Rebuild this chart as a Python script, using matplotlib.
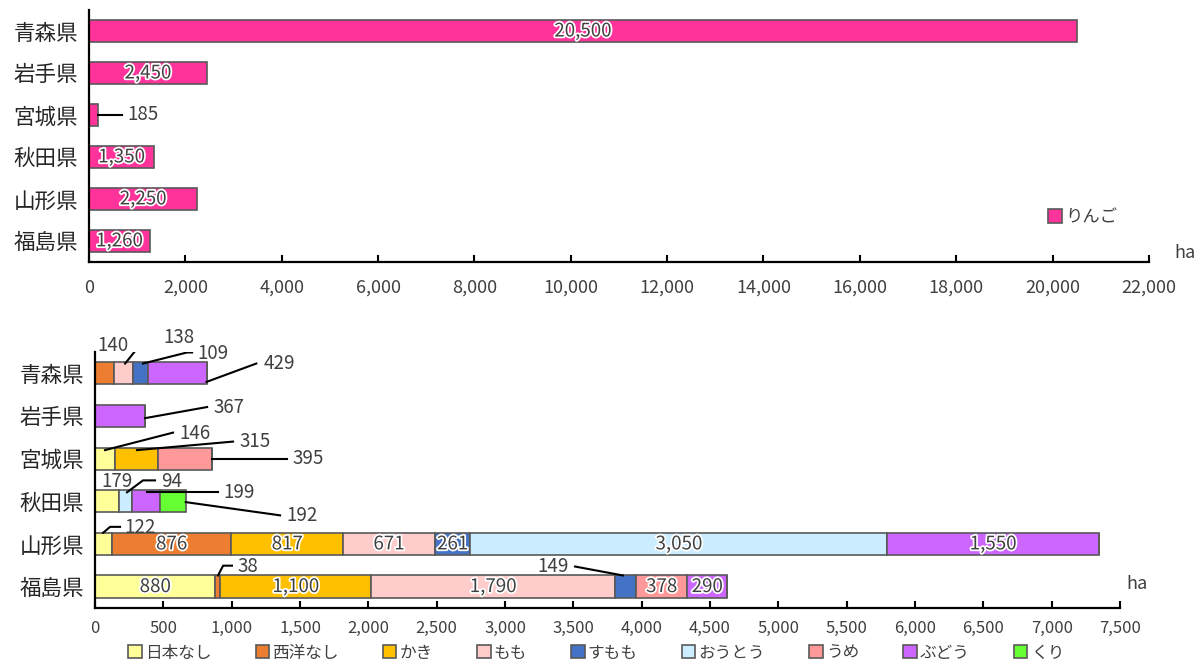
import numpy as np
import matplotlib.pyplot as plt
import matplotlib.patheffects as pe
from matplotlib.ticker import FuncFormatter

plt.rcParams['font.family'] = ['Noto Sans CJK JP', 'DejaVu Sans']

prefs = ["青森県", "岩手県", "宮城県", "秋田県", "山形県", "福島県"]

# りんご (ha)
apple = [20500, 2450, 185, 1350, 2250, 1260]

# other fruit (ha)
fruits = ["日本なし", "西洋なし", "かき", "もも", "すもも", "おうとう", "うめ", "ぶどう", "くり"]
nashi = [0, 0, 146, 179, 122, 880]
seiyo = [140, 0, 0, 0, 876, 38]
kaki = [0, 0, 315, 0, 817, 1100]
momo = [138, 0, 0, 0, 671, 1790]
sumomo = [109, 0, 0, 0, 261, 149]
outou = [0, 0, 0, 94, 3050, 0]
ume = [0, 0, 395, 0, 0, 378]
budou = [429, 367, 0, 199, 1550, 290]
kuri = [0, 0, 0, 192, 0, 0]
fruit_vals = [nashi, seiyo, kaki, momo, sumomo, outou, ume, budou, kuri]
fruit_colors = ["#FFFF99", "#ED7D31", "#FFC000", "#FFCCCC", "#4472C4",
                "#CCECFF", "#FF9999", "#CC66FF", "#66FF33"]

txt = "#404040"
edge = "#595959"
halo = [pe.withStroke(linewidth=2.5, foreground="white")]
comma = FuncFormatter(lambda v, p: f"{int(v):,}")

fig = plt.figure(figsize=(12.03, 6.68), dpi=100)
ax1 = fig.add_axes([0.074, 0.608, 0.881, 0.377])
ax2 = fig.add_axes([0.079, 0.090, 0.852, 0.383])

y = np.arange(len(prefs))

# ---- top: apples
ax1.barh(y, apple, height=0.52, color="#FF3399", edgecolor=edge, linewidth=1.2,
         label="りんご")
for i, v in enumerate(apple):
    if v > 1000:
        ax1.text(v / 2, i, f"{v:,}", ha="center", va="center", fontsize=13.5,
                 color=txt, path_effects=halo)
    else:
        ax1.plot([v, v + 500], [i, i], color="black", lw=1.5)
        ax1.text(v + 620, i, f"{v:,}", ha="left", va="center", fontsize=13.5, color=txt)

ax1.set_xlim(0, 22000)
ax1.set_ylim(len(prefs) - 0.5, -0.5)
ax1.set_xticks(np.arange(0, 22001, 2000))
ax1.xaxis.set_major_formatter(comma)
ax1.set_yticks(y)
ax1.set_yticklabels(prefs)
ax1.legend(loc="lower right", bbox_to_anchor=(0.985, 0.08), frameon=False,
           fontsize=12.5, handlelength=0.8, handleheight=0.8, handletextpad=0.2,
           labelcolor=txt)
ax1.text(1.034, 0.0, "ha", transform=ax1.transAxes, fontsize=13, color=txt,
         ha="center", va="bottom")

# ---- bottom: other fruit
# values labelled outside the bar: (pref index, fruit index, leader points (x, dy), label x, label dy, align)
outside = [
    (0, 1, [], 132, -0.66, "center"),
    (0, 3, [(220, -0.23), (380, -0.87), (454, -0.87)], 500, -0.85, "left"),
    (0, 4, [(351, -0.23), (673, -0.49), (710, -0.49)], 750, -0.47, "left"),
    (0, 7, [(816, 0.2), (1180, -0.23)], 1230, -0.23, "left"),
    (1, 7, [(367, 0.05), (820, -0.21)], 870, -0.21, "left"),
    (2, 0, [(73, -0.2), (571, -0.61)], 615, -0.6, "left"),
    (2, 2, [(307, -0.2), (1010, -0.4)], 1055, -0.4, "left"),
    (2, 6, [(856, 0.0), (1405, 0.0)], 1445, 0.0, "left"),
    (3, 0, [], 161, -0.46, "center"),
    (3, 5, [(234, -0.21), (351, -0.49), (439, -0.49)], 485, -0.47, "left"),
    (3, 7, [(380, -0.21), (900, -0.21)], 940, -0.21, "left"),
    (3, 8, [(664, 0.02), (1354, 0.33)], 1400, 0.33, "left"),
    (4, 0, [(59, -0.26), (110, -0.4), (183, -0.4)], 215, -0.38, "left"),
    (5, 1, [(900, -0.26), (937, -0.49), (1002, -0.49)], 1045, -0.47, "left"),
    (5, 4, [(3863, -0.26), (3512, -0.47)], 3465, -0.47, "right"),
]
outside_keys = {(o[0], o[1]) for o in outside}

left = np.zeros(len(prefs))
for k, (name, vals, col) in enumerate(zip(fruits, fruit_vals, fruit_colors)):
    vals = np.array(vals, dtype=float)
    ax2.barh(y, vals, left=left, height=0.52, color=col, edgecolor=edge,
             linewidth=1.2, label=name)
    for i, v in enumerate(vals):
        if v > 0 and (i, k) not in outside_keys:
            ax2.text(left[i] + v / 2, i, f"{int(v):,}", ha="center", va="center",
                     fontsize=13.5, color=txt, path_effects=halo)
    left += vals

for i, k, pts, lx, ldy, ha in outside:
    v = fruit_vals[k][i]
    if pts:
        ax2.plot([p[0] for p in pts], [i + p[1] for p in pts], color="black", lw=1.5)
    ax2.text(lx, i + ldy, f"{v:,}", ha=ha, va="center", fontsize=13.5, color=txt)

ax2.set_xlim(0, 7500)
ax2.set_ylim(len(prefs) - 0.5, -0.5)
ax2.set_xticks(np.arange(0, 7501, 500))
ax2.xaxis.set_major_formatter(comma)
ax2.set_yticks(y)
ax2.set_yticklabels(prefs)
ax2.text(1.017, 0.06, "ha", transform=ax2.transAxes, fontsize=13, color=txt,
         ha="center", va="bottom")
ax2.legend(loc="upper center", bbox_to_anchor=(0.489, -0.085), ncol=9, frameon=False,
           fontsize=12, handlelength=0.8, handleheight=0.8, handletextpad=0.2,
           columnspacing=2.65, labelcolor=txt)

for ax, fs_x, pad in [(ax1, 13, 12), (ax2, 12, 9)]:
    for s in ["top", "right"]:
        ax.spines[s].set_visible(False)
    for s in ["left", "bottom"]:
        ax.spines[s].set_linewidth(1.6)
        ax.spines[s].set_color("black")
    ax.tick_params(axis="x", direction="in", length=5, width=1.5, labelsize=fs_x,
                   labelcolor=txt, pad=pad)
    ax.tick_params(axis="y", length=0, labelsize=15.5, labelcolor="#262626", pad=8)

fig.savefig("out.png", dpi=100)
